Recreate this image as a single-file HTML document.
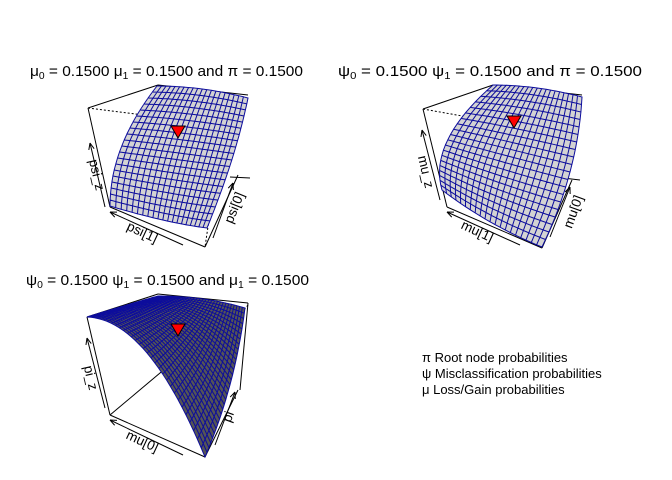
<!DOCTYPE html>
<html><head><meta charset="utf-8"><style>
html,body{margin:0;padding:0;background:#fff;}
svg{display:block;font-family:"Liberation Sans",sans-serif;}
</style></head><body>
<svg id="chart" width="672" height="480" viewBox="0 0 672 480" xmlns="http://www.w3.org/2000/svg">
<rect width="672" height="480" fill="#fff"/>
<g font-size="15" fill="#000">
<text x="30" y="76" textLength="273" lengthAdjust="spacingAndGlyphs">μ<tspan font-size="10" dy="3">0</tspan><tspan dy="-3"> = 0.1500 μ</tspan><tspan font-size="10" dy="3">1</tspan><tspan dy="-3"> = 0.1500 and π = 0.1500</tspan></text>
<text x="338" y="76" textLength="304" lengthAdjust="spacingAndGlyphs">ψ<tspan font-size="10" dy="3">0</tspan><tspan dy="-3"> = 0.1500 ψ</tspan><tspan font-size="10" dy="3">1</tspan><tspan dy="-3"> = 0.1500 and π = 0.1500</tspan></text>
<text x="26" y="285" textLength="283" lengthAdjust="spacingAndGlyphs">ψ<tspan font-size="10" dy="3">0</tspan><tspan dy="-3"> = 0.1500 ψ</tspan><tspan font-size="10" dy="3">1</tspan><tspan dy="-3"> = 0.1500 and μ</tspan><tspan font-size="10" dy="3">1</tspan><tspan dy="-3"> = 0.1500</tspan></text>
</g>
<g font-size="13">
<text x="422" y="362">π Root node probabilities</text>
<text x="422" y="378">ψ Misclassification probabilities</text>
<text x="422" y="394">μ Loss/Gain probabilities</text>
</g>
<g id="plots"></g>
</svg>
<script>
const panelNames = ['psi-surface','mu-surface','pi-surface'];
const gridN = [20, 20, 30];
const marker = [[178,132],[514,122],[178,330]];
const fills = ['#d3d3d3','#d3d3d3','#555555'];
// corners A(0,0) C(1,0) B(0,1) D(1,1) and bezier controls for edges AC, BD, AB, CD
const corners = [
  [[157,86],[248,98],[110,206],[207,228]],
  [[493,85],[582,97],[442,190],[542,247]],
  [[158,296],[245,308],[87,317],[205,457]]
];
const controls = [
  [[202,86],[167,223],[110,146],[236,157]],
  [[537,85],[488,225],[428,142],[578,172]],
  [[205,296],[148,319],[122,306],[235,387]]
];
const boxSolid = [
  [[88,108,158,85],[158,85,248,95],[88,108,110,207],[110,207,205,247],[205,247,238,175],[230,177,250,178]],
  [[423,109,493,85],[493,85,582,95],[423,109,447,207],[447,207,542,248],[542,248,572,180],[563,178,580,180]],
  [[87,317,158,294],[158,294,248,303],[87,317,110,415],[110,415,205,457],[205,457,238,390],[248,303,240,390],[110,415,185,352]]
];
const boxDash = [
  [[88,108,223,125],[223,125,205,247]],
  [[423,109,552,132],[552,132,545,240]],
  [[248,305,215,345]]
];
const arrows = [
  [[105,207,90,143],[183,245,110,212],[213,238,233,183]],
  [[440,200,422,130],[520,245,447,212],[550,237,570,187]],
  [[105,408,87,338],[183,455,110,420],[215,445,235,392]]
];
const labels = [
  [['psi_z',96,175,77],['psi[1]',142,233,25],['psi[0]',235,208,-68]],
  [['mu_z',425,172,77],['mu[1]',477,232,25],['mu[0]',574,212,-70]],
  [['pi_z',90,378,77],['mu[0]',142,442,25],['pi',229,417,-70]]
];
const NS='http://www.w3.org/2000/svg';
const root=document.getElementById('plots');
function mk(tag,attrs,parent){const e=document.createElementNS(NS,tag);for(const k in attrs)e.setAttribute(k,attrs[k]);(parent||root).appendChild(e);return e;}
function qb(p0,q,p1,u){return [(1-u)*(1-u)*p0[0]+2*u*(1-u)*q[0]+u*u*p1[0],(1-u)*(1-u)*p0[1]+2*u*(1-u)*q[1]+u*u*p1[1]];}
function pt(c,k,s,t){
  const A=c[0],C=c[1],B=c[2],D=c[3];
  const e0=qb(A,k[0],C,s), e1=qb(B,k[1],D,s), f0=qb(A,k[2],B,t), f1=qb(C,k[3],D,t);
  const r=[];
  for(let i=0;i<2;i++){
    r[i]=(1-t)*e0[i]+t*e1[i]+(1-s)*f0[i]+s*f1[i]-((1-s)*(1-t)*A[i]+s*(1-t)*C[i]+(1-s)*t*B[i]+s*t*D[i]);
  }
  return r;
}
for(let p=0;p<3;p++){
  const g=mk('g',{});
  
  
  boxDash[p].forEach(l=>{const e=mk('line',{x1:l[0],y1:l[1],x2:l[2],y2:l[3],stroke:'#000','stroke-width':1,'stroke-dasharray':'2,2'},g);
    
    });
  boxSolid[p].forEach(l=>{const e=mk('line',{x1:l[0],y1:l[1],x2:l[2],y2:l[3],stroke:'#000','stroke-width':1},g);
    
    });
  const sg=mk('g',{},g);
  
  
  const N=gridN[p],c=corners[p],k=controls[p];
  let d='';
  for(let i=0;i<N;i++)for(let j=0;j<N;j++){
    const a=pt(c,k,i/N,j/N),b=pt(c,k,(i+1)/N,j/N),e2=pt(c,k,(i+1)/N,(j+1)/N),f=pt(c,k,i/N,(j+1)/N);
    d+='M'+a[0].toFixed(1)+','+a[1].toFixed(1)+'L'+b[0].toFixed(1)+','+b[1].toFixed(1)+'L'+e2[0].toFixed(1)+','+e2[1].toFixed(1)+'L'+f[0].toFixed(1)+','+f[1].toFixed(1)+'Z';
  }
  mk('path',{d:d,fill:fills[p],stroke:'#0c0c9c','stroke-width':1},sg);
  arrows[p].forEach(l=>{
    const e=mk('line',{x1:l[0],y1:l[1],x2:l[2],y2:l[3],stroke:'#000','stroke-width':1},g);
    
    
    const ang=Math.atan2(l[3]-l[1],l[2]-l[0]);
    const h=mk('path',{d:'M'+l[2]+','+l[3]+'L'+(l[2]-7*Math.cos(ang-0.4))+','+(l[3]-7*Math.sin(ang-0.4))+'M'+l[2]+','+l[3]+'L'+(l[2]-7*Math.cos(ang+0.4))+','+(l[3]-7*Math.sin(ang+0.4)),stroke:'#000',fill:'none'},g);
    
    
  });
  labels[p].forEach(L=>{
    const t=mk('text',{x:L[1],y:L[2],'font-size':13.5,'text-anchor':'middle','dominant-baseline':'middle',transform:'rotate('+L[3]+' '+L[1]+' '+L[2]+')'},g);
    t.textContent=L[0];
    
    
  });
  const m=marker[p];
  const tri=mk('path',{d:'M'+(m[0]-7)+','+(m[1]-6)+'L'+(m[0]+7)+','+(m[1]-6)+'L'+m[0]+','+(m[1]+6)+'Z',fill:'#ff0000',stroke:'#000','stroke-width':1},g);
  
  
}
</script>
</body></html>
